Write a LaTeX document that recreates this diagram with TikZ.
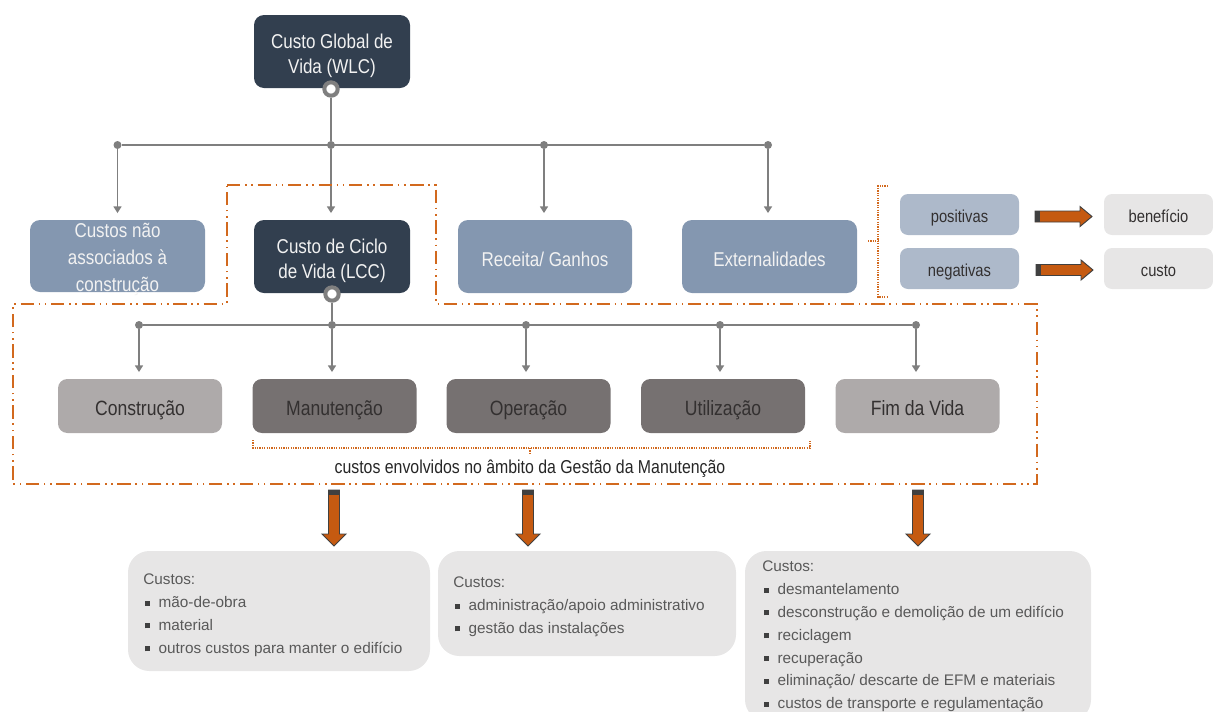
\documentclass[tikz,border=0pt]{standalone}
\usepackage{fontspec}
\setmainfont{Liberation Sans}
\newfontfamily\condfont[FakeStretch=0.85]{Liberation Sans}
\usetikzlibrary{arrows.meta,shadows,backgrounds}

\definecolor{navy}{HTML}{323F4F}
\definecolor{slate}{HTML}{8497B0}
\definecolor{paleslate}{HTML}{ADB9CA}
\definecolor{phaselight}{HTML}{AEAAAA}
\definecolor{phasedark}{HTML}{767171}
\definecolor{panel}{HTML}{E7E6E6}
\definecolor{wire}{HTML}{7F7F7F}
\definecolor{rust}{HTML}{C55A11}
\definecolor{frame}{HTML}{D2691E}
\definecolor{ink}{HTML}{333030}
\definecolor{bodytext}{HTML}{595959}
\definecolor{capdark}{HTML}{404040}
\definecolor{offwhite}{HTML}{F2F2F2}

\newcommand{\sqbullet}{\hspace*{1.5pt}{\color{capdark}\raisebox{1.6pt}{\rule{3.8pt}{3.8pt}}}\hspace{6.2pt}}
\newcommand{\topstrut}{\rule{0pt}{17pt}}

\begin{document}
\begin{tikzpicture}[x=0.75pt,y=-0.75pt,
  sz/.style 2 args={minimum width=#1*0.75pt, minimum height=#2*0.75pt},
  basebox/.style={inner sep=0pt, align=center, rounded corners=7.5pt},
  oneline/.style={text height=15.6pt, text depth=1pt},
  smallline/.style={text height=13pt, text depth=1pt},
  darkbox/.style={basebox, fill=navy, text=offwhite, font=\condfont\fontsize{15}{19}\selectfont},
  slatebox/.style={basebox, fill=slate, text=offwhite, font=\condfont\fontsize{15}{20}\selectfont},
  palebox/.style={basebox, smallline, rounded corners=6pt, fill=paleslate, text=ink, font=\condfont\fontsize{13}{16}\selectfont},
  greybox/.style={basebox, smallline, rounded corners=6pt, fill=panel, text=ink, font=\condfont\fontsize{13}{16}\selectfont},
  phaselt/.style={basebox, oneline, rounded corners=7pt, fill=phaselight, text=ink, font=\condfont\fontsize{15.5}{18}\selectfont},
  phasedk/.style={basebox, oneline, rounded corners=7pt, fill=phasedark, text=ink, font=\condfont\fontsize{15.5}{18}\selectfont},
  panelbox/.style={inner sep=0pt, rounded corners=16pt, fill=panel},
  listtext/.style={inner sep=0pt, anchor=north west, align=left, text=bodytext, font=\fontsize{11.5}{17.1}\selectfont},
  wire/.style={draw=wire, line width=1.1pt},
  tip/.style={-{Triangle[width=6pt,length=5pt]}, shorten >=5pt},
  dot/.style={circle, fill=wire, inner sep=0pt, minimum size=6pt},
  ring/.style={circle, draw=wire, line width=3pt, fill=white, inner sep=0pt, minimum size=10pt,
    drop shadow={opacity=0.35, shadow xshift=1.3pt, shadow yshift=-1.3pt}},
  mgmt/.style={draw=frame, line width=1.1pt, dash pattern=on 10pt off 3.5pt on 1.2pt off 3.5pt on 1.2pt off 3.5pt},
  brace/.style={draw=frame, line width=1pt, dash pattern=on 0.9pt off 0.9pt},
  down block/.pic={
    \draw[draw=capdark, line width=0.7pt, fill=rust]
      (-5.5,0) -- (5.5,0) -- (5.5,44) -- (12,44) -- (0,56) -- (-12,44) -- (-5.5,44) -- cycle;
    \fill[capdark] (-5.5,0) rectangle (5.5,4.5);
  },
  right block/.pic={
    \draw[draw=capdark, line width=0.7pt, fill=rust]
      (0,-5.5) -- (45,-5.5) -- (45,-10) -- (57,0) -- (45,10) -- (45,5.5) -- (0,5.5) -- cycle;
    \fill[capdark] (0,-5.5) rectangle (5,5.5);
  },
]
\clip (0,0) rectangle (1213,711);

% top level
\node[darkbox, sz={156}{73}] (wlc) at (332,51.5) {\topstrut Custo Global de\\Vida (WLC)};

% second level
\node[slatebox, sz={175}{72}] (cna) at (117.5,256) {};
\node[inner sep=0pt, align=center, text=offwhite, font=\condfont\fontsize{15}{20}\selectfont] (cnatext) at (117.5,259.5)
  {Custos não\\associados à\\construção};
\node[darkbox, sz={156}{73}] (lcc) at (332,256.5) {\topstrut Custo de Ciclo\\de Vida (LCC)};
\node[slatebox, oneline, sz={174}{73}] (rec) at (545,256.5) {Receita/ Ganhos};
\node[slatebox, oneline, sz={175}{73}] (ext) at (769.5,256.5) {Externalidades};

% externalities
\node[palebox, sz={119}{41}] (pos) at (959.5,214.5) {positivas};
\node[palebox, sz={119}{41}] (neg) at (959.5,268.5) {negativas};
\node[greybox, sz={109}{41}] (ben) at (1158.5,214.5) {benefício};
\node[greybox, sz={109}{41}] (cus) at (1158.5,268.5) {custo};
\pic at (1035,216.5) {right block};
\pic at (1036,270) {right block};
\draw[brace] (888,186) -- (878,186) -- (878,297) -- (888,297);
\draw[brace] (868,241) -- (878,241);

% life-cycle phases
\node[phaselt, sz={164}{54}] (con) at (140,406) {Construção};
\node[phasedk, sz={164}{54}] (mnt) at (334.5,406) {Manutenção};
\node[phasedk, sz={164}{54}] (opr) at (528.5,406) {Operação};
\node[phasedk, sz={164}{54}] (uti) at (723,406) {Utilização};
\node[phaselt, sz={164}{54}] (fim) at (917.5,406) {Fim da Vida};

% maintenance management bracket and label
\draw[brace] (253,440) -- (253,448) -- (810,448) -- (810,440);
\draw[brace] (530,448) -- (530,455);
\node[inner sep=0pt, text=black!85, font=\condfont\fontsize{14}{16}\selectfont] (gm) at (530,469)
  {custos envolvidos no âmbito da Gestão da Manutenção};

% LCC frame
\draw[mgmt] (227,185) -- (436,185) -- (436,304) -- (1037,304) -- (1037,484)
  -- (13,484) -- (13,304) -- (227,304) -- cycle;

% bus points and rings
\node[dot] (d11) at (117.5,145) {};
\node[dot] (d12) at (331,145) {};
\node[dot] (d13) at (544,145) {};
\node[dot] (d14) at (768,145) {};
\node[dot] (d21) at (139,325) {};
\node[dot] (d22) at (332,325) {};
\node[dot] (d23) at (526,325) {};
\node[dot] (d24) at (720,325) {};
\node[dot] (d25) at (916,325) {};
\node[ring] (r1) at (331,89) {};
\node[ring] (r2) at (332,294) {};

\begin{pgfonlayer}{background}
  \draw[wire] (d11) -- (d14);
  \draw[wire] (r1) -- (d12);
  \draw[wire, tip] (d11) -- (d11 |- cna.north);
  \draw[wire, tip] (d12) -- (d12 |- lcc.north);
  \draw[wire, tip] (d13) -- (d13 |- rec.north);
  \draw[wire, tip] (d14) -- (d14 |- ext.north);
  \draw[wire] (d21) -- (d25);
  \draw[wire] (r2) -- (d22);
  \draw[wire, tip] (d21) -- (d21 |- con.north);
  \draw[wire, tip] (d22) -- (d22 |- mnt.north);
  \draw[wire, tip] (d23) -- (d23 |- opr.north);
  \draw[wire, tip] (d24) -- (d24 |- uti.north);
  \draw[wire, tip] (d25) -- (d25 |- fim.north);
\end{pgfonlayer}

% cost panels
\pic at (334,490) {down block};
\pic at (528,490) {down block};
\pic at (918,490) {down block};
\node[panelbox, sz={302}{120}] (p1) at (279,611) {};
\node[panelbox, sz={298}{105}] (p2) at (587,603.5) {};
\node[panelbox, sz={346}{170}] (p3) at (918,636) {};
\node[listtext] (t1) at (143,574) {Custos:\\
  \sqbullet mão-de-obra\\
  \sqbullet material\\
  \sqbullet outros custos para manter o edifício};
\node[listtext] (t2) at (453,577) {Custos:\\
  \sqbullet administração/apoio administrativo\\
  \sqbullet gestão das instalações};
\node[listtext] (t3) at (762,561) {Custos:\\
  \sqbullet desmantelamento\\
  \sqbullet desconstrução e demolição de um edifício\\
  \sqbullet reciclagem\\
  \sqbullet recuperação\\
  \sqbullet eliminação/ descarte de EFM e materiais\\
  \sqbullet custos de transporte e regulamentação};
\end{tikzpicture}
\end{document}
